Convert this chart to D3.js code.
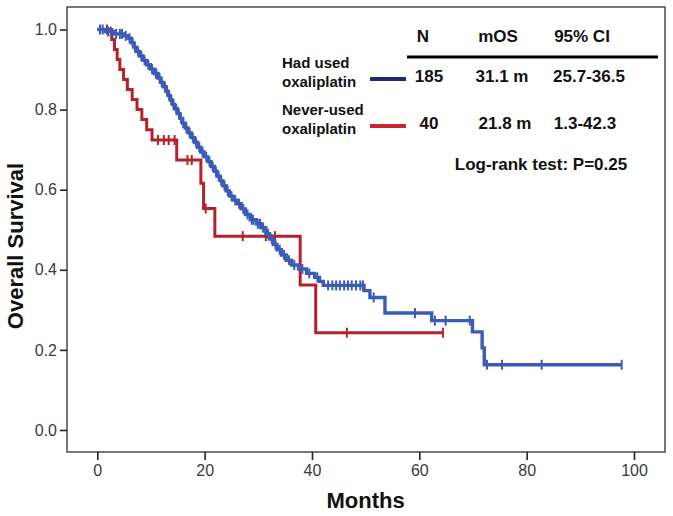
<!DOCTYPE html>
<html><head><meta charset="utf-8">
<script src="https://cdn.jsdelivr.net/npm/d3@7"></script>
<style>
html,body{margin:0;padding:0;background:#fff;}
svg{display:block;}
text{font-family:"Liberation Sans",Arial,sans-serif;}
</style></head>
<body>
<svg id="chart" width="673" height="516"></svg>
<script>
// ---------- data ----------
const xTicks = [0, 20, 40, 60, 80, 100];
const yTicks = [0.0, 0.2, 0.4, 0.6, 0.8, 1.0];

// Had used oxaliplatin (N=185): step times and survival after each step
const blueTimes = [0, 1.5, 3.0, 5.0, 5.8, 6.3, 6.8, 7.3, 7.9, 8.5, 9.2, 9.9, 10.6, 11.3, 11.8, 12.3, 12.8, 13.2, 13.6, 14.0, 14.4, 14.9, 15.4, 15.9, 16.4, 16.9, 17.5, 18.1, 18.7, 19.3, 19.9, 20.6, 21.2, 21.8, 22.3, 22.9, 23.4, 24.0, 24.6, 25.3, 26.0, 26.8, 27.6, 28.5, 29.6, 30.6, 31.4, 32.1, 32.8, 33.5, 34.3, 35.2, 36.2, 37.5, 39.0, 40.5, 41.4, 42.1, 49.7, 50.8, 53.6, 62.3, 69.9, 71.7, 72.1];
const blueSurv  = [1.0, 0.995, 0.989, 0.984, 0.978, 0.967, 0.956, 0.945, 0.934, 0.923, 0.912, 0.901, 0.890, 0.879, 0.868, 0.857, 0.846, 0.835, 0.824, 0.813, 0.802, 0.790, 0.778, 0.766, 0.754, 0.742, 0.730, 0.718, 0.706, 0.694, 0.682, 0.670, 0.658, 0.646, 0.634, 0.622, 0.610, 0.597, 0.584, 0.574, 0.565, 0.552, 0.538, 0.525, 0.515, 0.505, 0.490, 0.477, 0.463, 0.450, 0.437, 0.424, 0.412, 0.402, 0.391, 0.381, 0.371, 0.361, 0.348, 0.331, 0.292, 0.273, 0.245, 0.205, 0.163];
const blueEnd = 97.7;
const blueCensor = [0.5, 1.0, 2.0, 2.5, 3.5, 4.2, 4.6, 5.3, 6.0, 6.6, 7.0, 7.6, 8.2, 8.8, 9.5, 10.2, 10.9, 11.0, 11.6, 12.0, 12.6, 13.0, 13.4, 13.8, 14.2, 14.7, 15.2, 15.6, 16.0, 16.6, 17.2, 17.8, 18.4, 19.0, 19.6, 20.3, 20.9, 21.5, 22.1, 22.6, 23.1, 23.7, 24.3, 25.0, 25.7, 26.4, 27.2, 28.0, 28.8, 29.0, 29.9, 30.3, 30.9, 31.8, 32.5, 33.2, 34.0, 34.8, 35.7, 36.7, 38.2, 39.5, 41.0, 43.0, 43.8, 44.5, 45.2, 46.0, 46.7, 47.4, 48.2, 49.0, 49.5, 51.5, 59.2, 62.9, 64.9, 69.4, 72.6, 75.4, 82.8, 97.7];

// Never-used oxaliplatin (N=40)
const redTimes = [0, 2.7, 3.2, 3.7, 4.2, 4.9, 5.6, 6.5, 7.4, 8.3, 9.2, 10.2, 14.8, 19.3, 19.8, 21.9, 37.8, 40.7];
const redSurv  = [1.0, 0.975, 0.950, 0.925, 0.900, 0.875, 0.850, 0.825, 0.800, 0.775, 0.750, 0.724, 0.674, 0.616, 0.553, 0.484, 0.362, 0.243];
const redEnd = 64.4;
const redCensor = [1.8, 11.3, 12.4, 13.3, 14.4, 16.8, 17.6, 20.2, 27.1, 31.4, 33.1, 46.5, 64.4];

// legend / table
const groupLabels = [["Had used", "oxaliplatin"], ["Never-used", "oxaliplatin"]];
const tableHeader = ["N", "mOS", "95% CI"];
const tableN = ["185", "40"];
const tableMOS = ["31.1 m", "21.8  m"];
const tableCI = ["25.7-36.5", "1.3-42.3"];
const testLabel = "Log-rank test: P=0.25";

// ---------- drawing ----------
const svg = d3.select("#chart");
const frame = {left: 67, top: 7, right: 665, bottom: 452};
const x = d3.scaleLinear().domain([0, 100]).range([97.3, 634]);
const y = d3.scaleLinear().domain([0, 1]).range([430, 29.5]);

const plotBlue = "#3a5cb6", plotRed = "#b3232b";
const legBlue = "#1f2a6b", legRed = "#c7262e";

// frame
svg.append("rect").attr("x", frame.left).attr("y", frame.top)
  .attr("width", frame.right - frame.left).attr("height", frame.bottom - frame.top)
  .attr("fill", "none").attr("stroke", "#4a4a4a").attr("stroke-width", 1.5);

// axes
const yAxis = svg.append("g").attr("transform", `translate(${frame.left},0)`)
  .call(d3.axisLeft(y).tickValues(yTicks).tickFormat(d3.format(".1f")).tickSize(7).tickPadding(3));
const xAxis = svg.append("g").attr("transform", `translate(0,${frame.bottom})`)
  .call(d3.axisBottom(x).tickValues(xTicks).tickFormat(d3.format("d")).tickSize(8).tickPadding(5));
[yAxis, xAxis].forEach(g => {
  g.select(".domain").remove();
  g.selectAll(".tick line").attr("stroke", "#222").attr("stroke-width", 1.6);
  g.selectAll(".tick text").attr("fill", "#3a3a3a").attr("font-size", 16)
    .style("font-family", '"Liberation Sans",Arial,sans-serif');
});

// axis titles
svg.append("text").attr("x", x(50)).attr("y", 508).attr("text-anchor", "middle")
  .attr("font-size", 22).attr("font-weight", "bold").attr("fill", "#111").text("Months");
svg.append("text").attr("transform", `translate(23,246) rotate(-90)`)
  .attr("text-anchor", "middle").attr("font-size", 22).attr("font-weight", "bold").attr("fill", "#111")
  .text("Overall Survival");

// KM curves
function steps(times, surv, end) {
  const pts = times.map((t, i) => [t, surv[i]]);
  pts.push([end, surv[surv.length - 1]]);
  return pts;
}
function survAt(times, surv, t) {
  let s = surv[0];
  for (let i = 0; i < times.length; i++) if (times[i] <= t) s = surv[i];
  return s;
}
const line = d3.line().x(d => x(d[0])).y(d => y(d[1])).curve(d3.curveStepAfter);

function drawCurve(times, surv, end, censor, color, w) {
  const g = svg.append("g");
  g.append("path").datum(steps(times, surv, end)).attr("d", line)
    .attr("fill", "none").attr("stroke", color).attr("stroke-width", w);
  g.selectAll("line.c").data(censor).enter().append("line")
    .attr("x1", d => x(d)).attr("x2", d => x(d))
    .attr("y1", d => y(survAt(times, surv, d)) - 5)
    .attr("y2", d => y(survAt(times, surv, d)) + 5)
    .attr("stroke", color).attr("stroke-width", 2);
}
drawCurve(redTimes, redSurv, redEnd, redCensor, plotRed, 3);
drawCurve(blueTimes, blueSurv, blueEnd, blueCensor, plotBlue, 3.4);

// legend table
const leg = svg.append("g").attr("font-weight", "bold").attr("fill", "#111");
const colX = [429, 502, 586];
tableHeader.forEach((h, i) => {
  leg.append("text").attr("x", colX[i] - (i === 0 ? 6 : 4)).attr("y", 42).attr("text-anchor", "middle")
    .attr("font-size", 17).text(h);
});
leg.append("line").attr("x1", 407).attr("x2", 658).attr("y1", 57).attr("y2", 57)
  .attr("stroke", "#000").attr("stroke-width", 3);
const rowY = [82, 129];
const legColors = [legBlue, legRed];
groupLabels.forEach((lab, r) => {
  leg.append("text").attr("x", 282).attr("y", rowY[r] - 14).attr("font-size", 15).text(lab[0]);
  leg.append("text").attr("x", 282).attr("y", rowY[r] + 5).attr("font-size", 15).text(lab[1]);
  leg.append("line").attr("x1", 370).attr("x2", 406).attr("y1", rowY[r] - 3).attr("y2", rowY[r] - 3)
    .attr("stroke", legColors[r]).attr("stroke-width", 4);
  leg.append("text").attr("x", colX[0]).attr("y", rowY[r]).attr("text-anchor", "middle").attr("font-size", 17).text(tableN[r]);
  leg.append("text").attr("x", colX[1] + (r === 1 ? 3 : 0)).attr("y", rowY[r]).attr("text-anchor", "middle").attr("font-size", 17).text(tableMOS[r]);
  leg.append("text").attr("x", colX[2] + (r === 1 ? -1 : 3)).attr("y", rowY[r]).attr("text-anchor", "middle").attr("font-size", 17).text(tableCI[r]);
});
leg.append("text").attr("x", 541).attr("y", 170).attr("text-anchor", "middle").attr("font-size", 17).text(testLabel);
</script>
</body></html>
